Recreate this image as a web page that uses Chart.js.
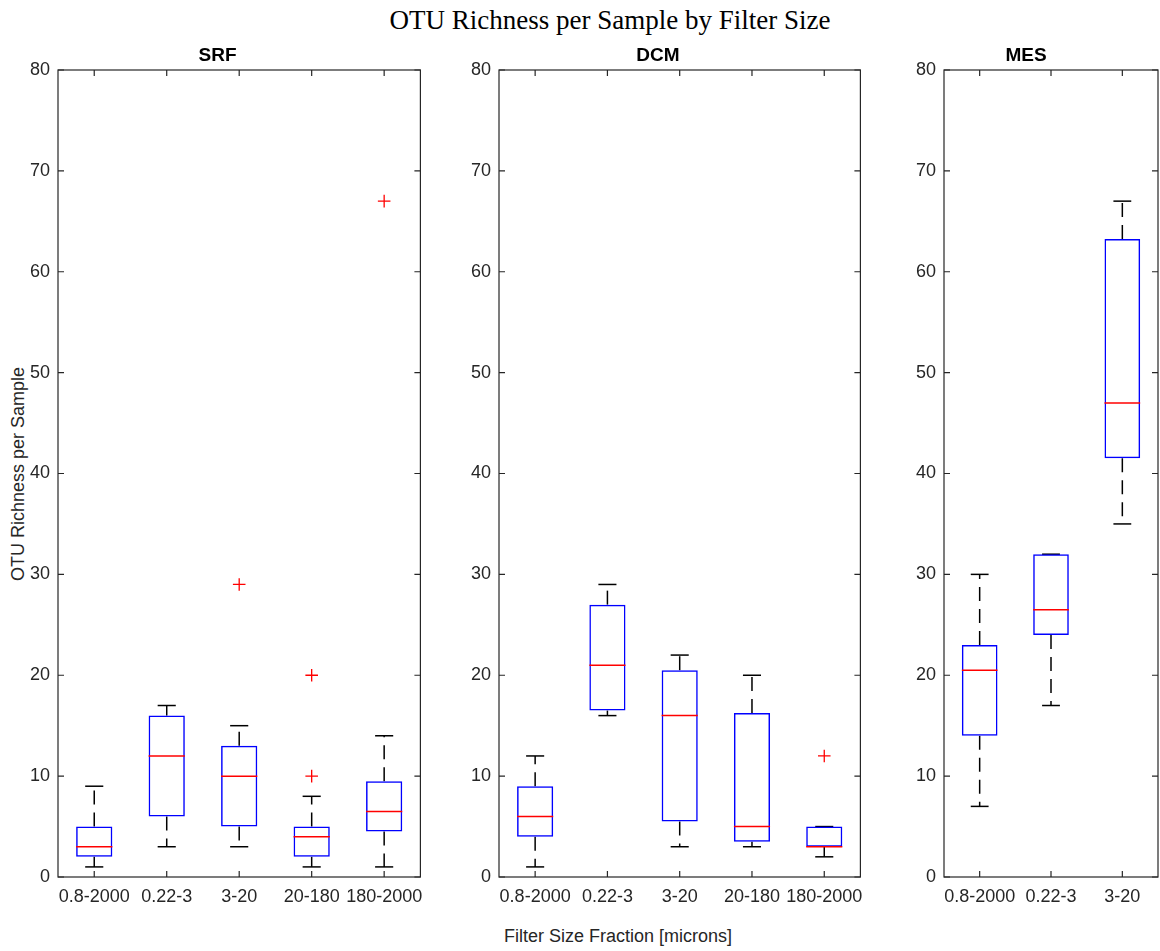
<!DOCTYPE html>
<html>
<head>
<meta charset="utf-8">
<title>OTU Richness per Sample by Filter Size</title>
<script src="https://cdn.jsdelivr.net/npm/chart.js@4/dist/chart.umd.min.js"></script>
<style>
  body { margin: 0; background: #fff; width: 1160px; height: 951px; position: relative; overflow: hidden; }
  canvas { position: absolute; top: 0; }
  .txt { position: absolute; white-space: nowrap; color: #262626; font-family: "Liberation Sans", Arial, sans-serif; font-size: 18px; }
  #suptitle { font-family: "Liberation Serif", "Times New Roman", serif; font-size: 27px; color: #000; left: 610px; top: 20px; transform: translate(-50%, -50%); }
  #xlabel { left: 618px; top: 936px; transform: translate(-50%, -50%); }
  #ylabel { left: 18px; top: 474px; transform: translate(-50%, -50%) rotate(-90deg); }
</style>
</head>
<body>

<div id="suptitle" class="txt">OTU Richness per Sample by Filter Size</div>
<div id="xlabel" class="txt">Filter Size Fraction [microns]</div>
<div id="ylabel" class="txt">OTU Richness per Sample</div>

<canvas id="srf" width="420" height="920" style="left:8px"></canvas>
<canvas id="dcm" width="419" height="920" style="left:449px"></canvas>
<canvas id="mes" width="265" height="920" style="left:894px"></canvas>

<script>
// filter size fractions
const sizes5 = ['0.8-2000', '0.22-3', '3-20', '20-180', '180-2000'];
const sizes3 = ['0.8-2000', '0.22-3', '3-20'];
const yTicks = [0, 10, 20, 30, 40, 50, 60, 70, 80];

// SRF
const srfMin = [1, 3, 3, 1, 1];
const srfQ1 = [2, 6, 5, 2, 4.5];
const srfMed = [3, 12, 10, 4, 6.5];
const srfQ3 = [5, 16, 13, 5, 9.5];
const srfMax = [9, 17, 15, 8, 14];
const srfOutX = ['3-20', '20-180', '20-180', '180-2000'];
const srfOutY = [29, 20, 10, 67];

// DCM
const dcmMin = [1, 16, 3, 3, 2];
const dcmQ1 = [4, 16.5, 5.5, 3.5, 3];
const dcmMed = [6, 21, 16, 5, 3];
const dcmQ3 = [9, 27, 20.5, 16.25, 5];
const dcmMax = [12, 29, 22, 20, 5];
const dcmOutX = ['180-2000'];
const dcmOutY = [12];

// MES
const mesMin = [7, 17, 35];
const mesQ1 = [14, 24, 41.5];
const mesMed = [20.5, 26.5, 47];
const mesQ3 = [23, 32, 63.25];
const mesMax = [30, 32, 67];
const mesOutX = [];
const mesOutY = [];

const sans = '"Liberation Sans", Arial, sans-serif';
const axisColor = '#262626';

// whiskers + caps under the boxes, medians on top
const boxParts = {
  id: 'boxParts',
  beforeDatasetsDraw(chart) {
    const st = chart.options.plugins.boxParts;
    const xs = chart.scales.x, ys = chart.scales.y;
    const bars = chart.getDatasetMeta(0).data;
    const ctx = chart.ctx;
    ctx.save();
    ctx.strokeStyle = '#000';
    ctx.lineWidth = 1.5;
    st.med.forEach((m, i) => {
      const x = xs.getPixelForValue(i);
      const w = bars[i].width;
      ctx.setLineDash([14, 8]);
      if (st.max[i] > st.q3[i]) {
        ctx.beginPath();
        ctx.moveTo(x, ys.getPixelForValue(st.q3[i]));
        ctx.lineTo(x, ys.getPixelForValue(st.max[i]));
        ctx.stroke();
      }
      if (st.min[i] < st.q1[i]) {
        ctx.beginPath();
        ctx.moveTo(x, ys.getPixelForValue(st.q1[i]));
        ctx.lineTo(x, ys.getPixelForValue(st.min[i]));
        ctx.stroke();
      }
      ctx.setLineDash([]);
      [st.max[i], st.min[i]].forEach(v => {
        const py = ys.getPixelForValue(v);
        ctx.beginPath();
        ctx.moveTo(x - w / 4, py);
        ctx.lineTo(x + w / 4, py);
        ctx.stroke();
      });
    });
    ctx.restore();
  },
  afterDatasetsDraw(chart) {
    const st = chart.options.plugins.boxParts;
    const xs = chart.scales.x, ys = chart.scales.y;
    const bars = chart.getDatasetMeta(0).data;
    const ctx = chart.ctx;
    ctx.save();
    ctx.strokeStyle = '#ff0000';
    ctx.lineWidth = 1.5;
    st.med.forEach((m, i) => {
      const x = xs.getPixelForValue(i);
      const w = bars[i].width;
      const my = ys.getPixelForValue(m);
      ctx.beginPath();
      ctx.moveTo(x - w / 2, my);
      ctx.lineTo(x + w / 2, my);
      ctx.stroke();
    });
    ctx.restore();
  },
  afterDraw(chart) {
    // matlab style box with inward ticks
    const a = chart.chartArea;
    const xs = chart.scales.x, ys = chart.scales.y;
    const ctx = chart.ctx;
    ctx.save();
    ctx.strokeStyle = axisColor;
    ctx.lineWidth = 1.2;
    ctx.strokeRect(a.left, a.top, a.right - a.left, a.bottom - a.top);
    ctx.beginPath();
    ys.ticks.forEach(t => {
      const py = ys.getPixelForValue(t.value);
      ctx.moveTo(a.left, py); ctx.lineTo(a.left + 6, py);
      ctx.moveTo(a.right, py); ctx.lineTo(a.right - 6, py);
    });
    xs.ticks.forEach((t, i) => {
      const px = xs.getPixelForValue(i);
      ctx.moveTo(px, a.bottom); ctx.lineTo(px, a.bottom - 6);
      ctx.moveTo(px, a.top); ctx.lineTo(px, a.top + 6);
    });
    ctx.stroke();
    ctx.restore();
  }
};

function noPad(s) {
  s.paddingLeft = 0; s.paddingRight = 0; s.paddingTop = 0; s.paddingBottom = 0;
}

function makeBox(id, title, labels, mins, q1s, meds, q3s, maxs, outX, outY) {
  return new Chart(document.getElementById(id), {
    type: 'bar',
    data: {
      labels: labels,
      datasets: [{
        type: 'bar',
        data: q1s.map((q, i) => [q, q3s[i]]),
        backgroundColor: 'rgba(0,0,0,0)',
        borderColor: '#0000ff',
        borderWidth: 1.5,
        borderSkipped: false,
        barPercentage: 0.5,
        categoryPercentage: 1.0
      }, {
        type: 'scatter',
        data: outX.map((x, i) => ({ x: x, y: outY[i] })),
        pointStyle: 'cross',
        pointRadius: 6.3,
        pointBorderColor: '#ff0000',
        pointBorderWidth: 1.3
      }]
    },
    options: {
      responsive: false,
      animation: false,
      layout: { padding: { top: 44, right: 1, left: 0, bottom: 0 } },
      plugins: {
        legend: { display: false },
        tooltip: { enabled: false },
        title: {
          display: true,
          text: title,
          color: '#000',
          font: { family: sans, size: 19, weight: 'bold' },
          padding: { top: 0, bottom: 3.2 }
        },
        boxParts: { min: mins, q1: q1s, med: meds, q3: q3s, max: maxs }
      },
      scales: {
        x: {
          type: 'category',
          offset: true,
          grid: { display: false, drawTicks: false },
          border: { display: false },
          ticks: { color: axisColor, font: { family: sans, size: 18 }, padding: 9, maxRotation: 0, autoSkip: false },
          afterFit(s) { s.height = 43; noPad(s); }
        },
        y: {
          min: 0,
          max: 80,
          grid: { display: false, drawTicks: false },
          border: { display: false },
          afterBuildTicks(s) { s.ticks = yTicks.map(v => ({ value: v })); },
          ticks: { color: axisColor, font: { family: sans, size: 18 }, padding: 8 },
          afterFit(s) { s.width = 50; noPad(s); }
        }
      }
    },
    plugins: [boxParts]
  });
}

makeBox('srf', 'SRF', sizes5, srfMin, srfQ1, srfMed, srfQ3, srfMax, srfOutX, srfOutY);
makeBox('dcm', 'DCM', sizes5, dcmMin, dcmQ1, dcmMed, dcmQ3, dcmMax, dcmOutX, dcmOutY);
makeBox('mes', 'MES', sizes3, mesMin, mesQ1, mesMed, mesQ3, mesMax, mesOutX, mesOutY);
</script>
</body>
</html>
